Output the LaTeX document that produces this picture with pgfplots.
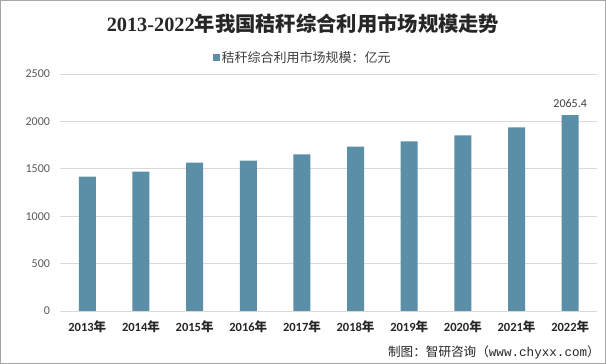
\documentclass[border=0pt]{standalone}
\usepackage{pgfplots}
\pgfplotsset{compat=1.18}
\usepackage{fontspec}
\setmainfont{Carlito}
\newfontfamily\cjk{Noto Sans CJK SC}
\newfontfamily\titlelat{Liberation Serif}
\newfontfamily\mono{Liberation Mono}
\definecolor{barc}{HTML}{5B8FA7}
\definecolor{gridc}{HTML}{D9D9D9}
\definecolor{framec}{HTML}{A6A6A6}
\definecolor{ylab}{HTML}{595959}
\definecolor{txt}{HTML}{262626}
\definecolor{legt}{HTML}{404040}
\begin{document}
\begin{tikzpicture}[x=1pt,y=1pt]
\useasboundingbox (0,0) rectangle (606,364);
\fill[white] (0,0) rectangle (606,364);
\draw[framec,line width=1.2pt] (0.6,0.6) rectangle (605.4,363.4);
\node[font=\fontsize{20.3}{21}\selectfont\bfseries, text=txt] at (303,340) {\titlelat 2013-2022\cjk 年我国秸秆综合利用市场规模走势};
\node[anchor=east, font=\fontsize{12.6}{13}\selectfont, text=txt, inner sep=0pt] at (600,12) {\cjk 制图：智研咨询（\mono www.chyxx.com\cjk ）};
\begin{axis}[
  at={(60.5pt,53pt)}, anchor=south west, scale only axis,
  width=536.5pt, height=237pt,
  xmin=-0.5, xmax=9.5, ymin=0, ymax=2500,
  ybar, bar width=17pt,
  axis x line*=bottom, axis y line*=left,
  x axis line style={draw=gridc, line width=0.8pt, -},
  y axis line style={draw=none},
  major tick length=0pt,
  ymajorgrids, grid style={draw=gridc, line width=0.8pt},
  ytick={0,500,1000,1500,2000,2500},
  yticklabels={0,500,1000,1500,2000,2500},
  yticklabel style={font=\fontsize{12}{12}\selectfont, text=ylab, xshift=-7pt},
  xtick={0,...,9},
  xticklabels={2013{\cjk 年},2014{\cjk 年},2015{\cjk 年},2016{\cjk 年},2017{\cjk 年},2018{\cjk 年},2019{\cjk 年},2020{\cjk 年},2021{\cjk 年},2022{\cjk 年}},
  xticklabel style={font=\fontsize{12.5}{12.5}\selectfont\bfseries, text=txt, yshift=-6pt},
  legend style={at={(0.5,1)}, anchor=center, xshift=-26pt, yshift=16pt, draw=none, fill=none,
    font=\fontsize{13}{13}\selectfont, text=legt},
  legend image code/.code={\fill[barc] (0pt,-3.5pt) rectangle (7pt,3.5pt);},
  nodes near coords, point meta=explicit symbolic,
  every node near coord/.append style={font=\fontsize{12}{12}\selectfont, text=legt, yshift=4pt},
  clip=false,
]
\addplot[fill=barc, draw=none] coordinates {
 (0,1418) [] (1,1471) [] (2,1566) [] (3,1587) [] (4,1651) []
 (5,1735) [] (6,1788) [] (7,1852) [] (8,1937) [] (9,2065.4) [2065.4]
};
\addlegendentry{\cjk 秸秆综合利用市场规模：亿元}
\end{axis}
\end{tikzpicture}
\end{document}
